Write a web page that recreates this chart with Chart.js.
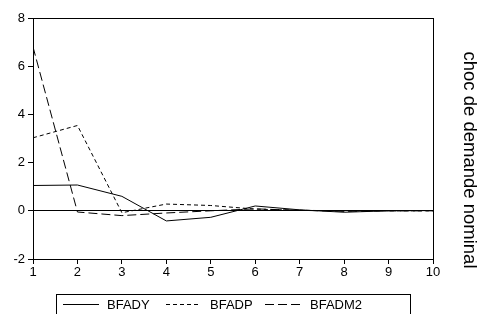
<!DOCTYPE html>
<html>
<head>
<meta charset="utf-8">
<script src="https://cdn.jsdelivr.net/npm/chart.js@4.4.1/dist/chart.umd.min.js"></script>
<style>
  html, body { margin: 0; padding: 0; background: #fff; }
  #wrap { width: 480px; height: 314px; }
</style>
</head>
<body>
<div id="wrap"><canvas id="irf" width="480" height="314"></canvas></div>
<script>
// horizons 1..10
const periods = [1, 2, 3, 4, 5, 6, 7, 8, 9, 10];
const bfady  = [1.05, 1.07, 0.6, -0.42, -0.27, 0.2, 0.04, -0.06, 0.0, 0.01];
const bfadp  = [3.03, 3.54, -0.08, 0.28, 0.22, 0.07, 0.02, 0.0, 0.0, 0.0];
const bfadm2 = [6.8, -0.05, -0.2, -0.09, 0.0, 0.08, 0.02, -0.02, 0.0, 0.0];
const yTicks = [-2, 0, 2, 4, 6, 8];
const seriesNames = ['BFADY', 'BFADP', 'BFADM2'];
const dashes = [[], [4, 3], [9, 4]];
const sideTitle = 'choc de demande nominal';

const font = 'Arial, "Liberation Sans", sans-serif';

function pts(vals) {
    return periods.map((p, i) => ({ x: p, y: vals[i] }));
}

const frame = {
    id: 'frame',
    afterDraw(chart) {
        const c = chart.ctx;
        const a = chart.chartArea;
        c.save();
        c.strokeStyle = '#000';
        c.lineWidth = 1;
        c.strokeRect(Math.round(a.left) + 0.5, Math.round(a.top) + 0.5,
            Math.round(a.right - a.left), Math.round(a.bottom - a.top));

        // legend box at the bottom
        c.strokeRect(56.5, 294.5, 354, 30);
        const items = [
            { x0: 63, x1: 99, tx: 107 },
            { x0: 166, x1: 200, tx: 210 },
            { x0: 265, x1: 300, tx: 310 }
        ];
        c.font = '13px ' + font;
        c.fillStyle = '#000';
        c.textBaseline = 'middle';
        items.forEach((it, i) => {
            c.setLineDash(dashes[i]);
            c.beginPath();
            c.moveTo(it.x0, 304.5);
            c.lineTo(it.x1, 304.5);
            c.stroke();
            c.setLineDash([]);
            c.fillText(seriesNames[i], it.tx, 305);
        });

        // rotated title on the right
        c.translate(469, 160);
        c.rotate(Math.PI / 2);
        c.font = '18.5px ' + font;
        c.textAlign = 'center';
        c.textBaseline = 'middle';
        c.fillText(sideTitle, 0, 0);
        c.restore();
    }
};

const ctx = document.getElementById('irf').getContext('2d');
new Chart(ctx, {
    type: 'line',
    data: {
        datasets: [bfady, bfadp, bfadm2].map((vals, i) => ({
            label: seriesNames[i],
            data: pts(vals),
            borderColor: '#000',
            borderWidth: 1,
            borderDash: dashes[i],
            pointRadius: 0,
            tension: 0,
            fill: false
        }))
    },
    options: {
        responsive: false,
        animation: false,
        layout: { padding: { top: 18, right: 47, left: 0, bottom: 0 } },
        plugins: { legend: { display: false }, tooltip: { enabled: false } },
        scales: {
            x: {
                type: 'linear',
                min: 1,
                max: 10,
                afterFit: s => { s.height = 55; },
                afterBuildTicks: s => { s.ticks = periods.map(v => ({ value: v })); },
                grid: { drawOnChartArea: false, tickLength: 5, color: '#000' },
                border: { color: '#000' },
                ticks: { color: '#000', font: { family: font, size: 13 }, padding: 1, maxRotation: 0 }
            },
            y: {
                min: -2,
                max: 8,
                afterFit: s => { s.width = 33; },
                afterBuildTicks: s => { s.ticks = yTicks.map(v => ({ value: v })); },
                grid: {
                    color: c => c.tick && c.tick.value === 0 ? '#000' : 'rgba(0,0,0,0)',
                    tickColor: '#000',
                    tickLength: 5
                },
                border: { color: '#000' },
                ticks: { color: '#000', font: { family: font, size: 13 }, padding: 3 }
            }
        }
    },
    plugins: [frame]
});
</script>
</body>
</html>
